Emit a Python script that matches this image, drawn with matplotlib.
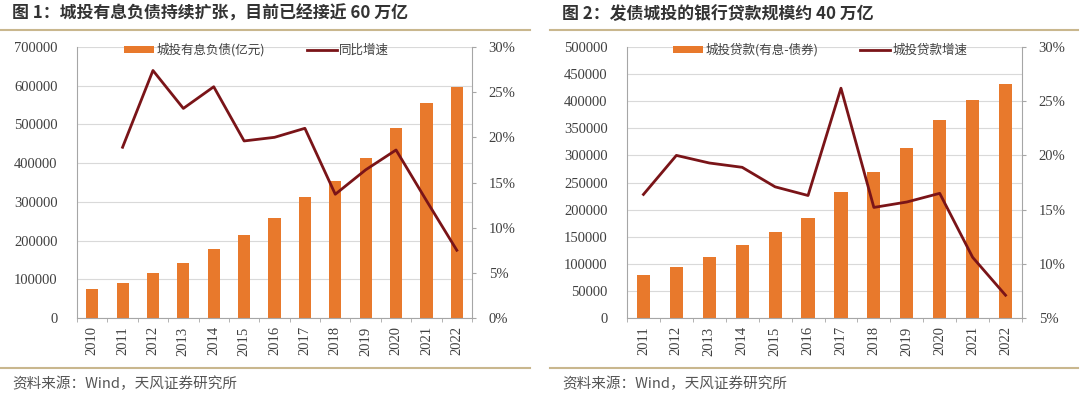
import matplotlib
matplotlib.use("Agg")
import matplotlib.pyplot as plt
from matplotlib.lines import Line2D
from matplotlib.patches import Patch
import numpy as np

plt.rcParams['font.family'] = ['Noto Sans CJK SC', 'DejaVu Sans']

# ---------------- data ----------------
title1 = "图 1：城投有息负债持续扩张，目前已经接近 60 万亿"
title2 = "图 2：发债城投的银行贷款规模约 40 万亿"
source = "资料来源：Wind，天风证券研究所"

years1 = ["2010", "2011", "2012", "2013", "2014", "2015", "2016",
          "2017", "2018", "2019", "2020", "2021", "2022"]
debt1 = [75000, 90000, 116000, 142000, 178000, 214000, 259000,
         313000, 354000, 413000, 491000, 555000, 597000]
growth1 = [np.nan, 18.9, 27.4, 23.2, 25.6, 19.6, 20.0,
           21.0, 13.7, 16.4, 18.6, 13.0, 7.5]
legend1 = ["城投有息负债(亿元)", "同比增速"]

years2 = ["2011", "2012", "2013", "2014", "2015", "2016",
          "2017", "2018", "2019", "2020", "2021", "2022"]
loan2 = [79000, 94000, 112000, 134000, 158000, 184000,
         232000, 269000, 313000, 365000, 402000, 431000]
growth2 = [16.4, 20.0, 19.3, 18.9, 17.1, 16.3,
           26.2, 15.2, 15.7, 16.5, 10.6, 7.1]
legend2 = ["城投贷款(有息-债券)", "城投贷款增速"]

# ---------------- style ----------------
BAR = "#E8792C"
LINE = "#7A1418"
GRID = "#D9D9D9"
SPINE = "#A6A6A6"
TXT = "#404040"
RULE = "#C9B78E"
SERIF = ["Liberation Serif", "DejaVu Serif"]
TICKFS = 10.5

fig = plt.figure(figsize=(10.8, 3.97), dpi=100)
W, H = 1080, 397

def fx(px):
    return px / W

def fy(py):
    return 1 - py / H

def panel(x0px, x1px, years, bars, growth, ylim, yticks, y2lim, y2ticks,
          labels, title, title_x, leg_x, rule_x0, rule_x1):
    ax = fig.add_axes([fx(x0px), fy(318), fx(x1px - x0px), (318 - 47) / H])
    x = np.arange(len(years))
    ax.bar(x, bars, width=0.4, color=BAR, zorder=2)
    ax.set_xlim(-0.5, len(years) - 0.5)
    ax.set_ylim(*ylim)
    ax.set_yticks(yticks)
    ax.set_yticklabels([f"{v:d}" for v in yticks], fontfamily=SERIF,
                       fontsize=TICKFS, color=TXT)
    ax.yaxis.grid(True, color=GRID, lw=0.8, zorder=0)
    ax.set_axisbelow(True)
    ax.set_xticks(x)
    ax.set_xticklabels(years, rotation=90, fontfamily=SERIF, fontsize=TICKFS,
                       color=TXT)
    ax.set_xticks(np.arange(-0.5, len(years)), minor=True)
    ax.tick_params(axis='x', which='major', length=0, pad=6)
    ax.tick_params(axis='x', which='minor', length=3, color=SPINE)
    ax.tick_params(axis='y', length=0, pad=14)
    for s in ["top", "right"]:
        ax.spines[s].set_visible(False)
    ax.spines["left"].set_color(SPINE)
    ax.spines["bottom"].set_color(SPINE)

    ax2 = ax.twinx()
    ax2.plot(x, growth, color=LINE, lw=2.0, zorder=3)
    ax2.set_ylim(*y2lim)
    ax2.set_yticks(y2ticks)
    ax2.set_yticklabels([f"{v}%" for v in y2ticks], fontfamily=SERIF,
                        fontsize=TICKFS, color=TXT)
    ax2.tick_params(axis='y', length=3, color=SPINE, pad=9)
    for s in ["top", "left", "bottom"]:
        ax2.spines[s].set_visible(False)
    ax2.spines["right"].set_color(SPINE)

    handles = [Patch(facecolor=BAR, edgecolor="none"),
               Line2D([0], [0], color=LINE, lw=2.0)]
    ax.legend(handles, labels, ncol=2, loc="upper center",
              bbox_to_anchor=(leg_x, 1.055), frameon=False, fontsize=9,
              handlelength=2.4, handleheight=0.55, handletextpad=0.2,
              columnspacing=3.3, labelcolor=TXT)

    fig.text(fx(title_x), fy(14), title, fontsize=12.2, fontweight="bold",
             color="#333333", va="center", ha="left")
    fig.add_artist(Line2D([fx(rule_x0), fx(rule_x1)], [fy(30), fy(30)],
                          color=RULE, lw=1.5))
    fig.add_artist(Line2D([fx(rule_x0), fx(rule_x1)], [fy(368), fy(368)],
                          color=RULE, lw=1.5))
    fig.text(fx(title_x), fy(384), source, fontsize=10.5, color="#555555",
             va="center", ha="left")
    return ax, ax2

panel(77, 472, years1, debt1, growth1, (0, 700000),
      list(range(0, 700001, 100000)), (0, 30), [0, 5, 10, 15, 20, 25, 30],
      legend1, title1, 12, 0.455, 0, 530)

panel(627, 1022, years2, loan2, growth2, (0, 500000),
      list(range(0, 500001, 50000)), (5, 30), [5, 10, 15, 20, 25, 30],
      legend2, title2, 562, 0.49, 550, 1078)

fig.savefig("out.png", dpi=100, facecolor="white")
